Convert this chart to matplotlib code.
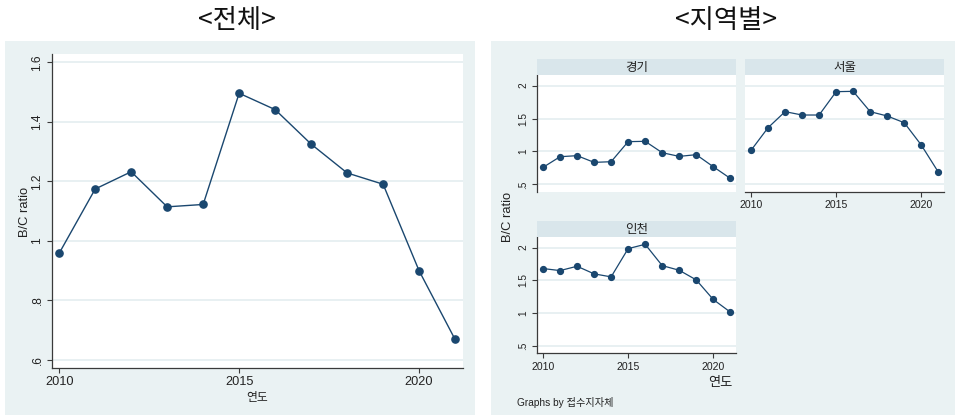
import matplotlib
matplotlib.use("Agg")
import matplotlib.pyplot as plt
from matplotlib.patches import Rectangle

# ---- data -------------------------------------------------------------
years = [2010, 2011, 2012, 2013, 2014, 2015, 2016, 2017, 2018, 2019, 2020, 2021]
total_bc = [0.958, 1.174, 1.232, 1.114, 1.122, 1.496, 1.441, 1.325, 1.228, 1.190, 0.899, 0.668]
gyeonggi_bc = [0.758, 0.920, 0.936, 0.834, 0.844, 1.149, 1.154, 0.981, 0.925, 0.951, 0.768, 0.591]
seoul_bc = [1.017, 1.361, 1.605, 1.554, 1.554, 1.909, 1.914, 1.605, 1.539, 1.437, 1.098, 0.687]
incheon_bc = [1.681, 1.650, 1.716, 1.600, 1.554, 1.985, 2.051, 1.726, 1.655, 1.508, 1.209, 1.017]
regions = ["경기", "서울", "인천"]

total_yticks = [0.6, 0.8, 1.0, 1.2, 1.4, 1.6]
total_yticklabels = [".6", ".8", "1", "1.2", "1.4", "1.6"]
region_yticks = [0.5, 1.0, 1.5, 2.0]
region_yticklabels = [".5", "1", "1.5", "2"]
xticks = [2010, 2015, 2020]

# ---- style ------------------------------------------------------------
plt.rcParams["font.family"] = ["Liberation Sans", "Noto Sans CJK KR", "DejaVu Sans"]
NAVY = "#1a476f"
BG = "#eaf2f3"
STRIP = "#d9e6eb"
AXIS = "#3a3a3a"
GRID = "#e6eff1"

W, H = 955, 415
fig = plt.figure(figsize=(W / 100, H / 100), dpi=100)
fig.patch.set_facecolor("white")


def fx(x):
    return x / W


def fy(y):
    return 1 - y / H


def add_px_axes(x0, y0, x1, y1, **kw):
    return fig.add_axes([fx(x0), fy(y1), (x1 - x0) / W, (y1 - y0) / H], **kw)


# panel backgrounds
fig.patches.append(Rectangle((fx(5), fy(415)), fx(475) - fx(5), fy(41) - fy(415),
                             transform=fig.transFigure, facecolor=BG, edgecolor="none", zorder=-5))
fig.patches.append(Rectangle((fx(491), fy(415)), fx(955) - fx(491), fy(41) - fy(415),
                             transform=fig.transFigure, facecolor=BG, edgecolor="none", zorder=-5))


def style_axes(ax, ylim, xlim, yticks, yticklabels, ysize, xsize, show_x=True, show_y=True):
    ax.set_facecolor("white")
    ax.set_xlim(*xlim)
    ax.set_ylim(*ylim)
    for s in ("top", "right"):
        ax.spines[s].set_visible(False)
    for s in ("left", "bottom"):
        ax.spines[s].set_color(AXIS)
        ax.spines[s].set_linewidth(0.9)
    ax.set_yticks(yticks)
    ax.set_xticks(xticks)
    for yv in yticks:
        ax.axhline(yv, color=GRID, lw=1.3, zorder=0.5)
    ax.tick_params(axis="both", direction="out", length=3.6, width=0.8, color=AXIS)
    ax.tick_params(axis="y", labelsize=ysize, pad=2.5, labelrotation=90)
    ax.tick_params(axis="x", labelsize=xsize, pad=2.5)
    if show_y:
        ax.set_yticklabels(yticklabels)
        for t in ax.get_yticklabels():
            t.set_va("center")
            t.set_color("#222222")
    else:
        ax.spines["left"].set_visible(False)
        ax.tick_params(axis="y", left=False, labelleft=False)
    if show_x:
        ax.set_xticklabels([str(v) for v in xticks])
        for t in ax.get_xticklabels():
            t.set_color("#222222")
    else:
        ax.spines["bottom"].set_visible(False)
        ax.tick_params(axis="x", bottom=False, labelbottom=False)


def plot_series(ax, values, ms, lw):
    ax.plot(years, values, color=NAVY, lw=lw, marker="o", ms=ms,
            markerfacecolor=NAVY, markeredgecolor=NAVY, zorder=3, clip_on=False)


# ---- overall panel -------------------------------------------------------
ax_total = add_px_axes(52, 54, 463, 368)
style_axes(ax_total, (0.572, 1.628), (2009.80, 2021.22), total_yticks, total_yticklabels,
           ysize=8.6, xsize=9.2)
plot_series(ax_total, total_bc, ms=5.2, lw=1.0)
fig.text(fx(257), fy(398), "연도", ha="center", va="center", fontsize=8.5, color="#222222")
fig.text(fx(25), fy(212), "B/C ratio", ha="center", va="center", rotation=90,
         fontsize=9.3, color="#222222")

# ---- regional panels -----------------------------------------------------
region_data = {"경기": gyeonggi_bc, "서울": seoul_bc, "인천": incheon_bc}
region_boxes = {
    "경기": (537, 74.7, 736, 191.7),
    "서울": (745, 74.7, 944, 191.7),
    "인천": (537, 236.7, 736, 353.3),
}
region_axes_flags = {
    "경기": dict(show_x=False, show_y=True),
    "서울": dict(show_x=True, show_y=False),
    "인천": dict(show_x=True, show_y=True),
}
strip_h = 15.7

for name in regions:
    x0, y0, x1, y1 = region_boxes[name]
    ax = add_px_axes(x0, y0, x1, y1)
    style_axes(ax, (0.388, 2.167), (2009.646, 2021.336), region_yticks, region_yticklabels,
               ysize=7.2, xsize=7.6, **region_axes_flags[name])
    plot_series(ax, region_data[name], ms=4.2, lw=0.9)
    # facet header strip
    sax = add_px_axes(x0, y0 - strip_h, x1, y0)
    sax.set_facecolor(STRIP)
    sax.set_xticks([])
    sax.set_yticks([])
    for s in sax.spines.values():
        s.set_visible(False)
    sax.text(0.5, 0.45, name, transform=sax.transAxes, ha="center", va="center",
             fontsize=9, color="#222222")

fig.text(fx(720), fy(383), "연도", ha="center", va="center", fontsize=9.5, color="#222222")
fig.text(fx(508), fy(217), "B/C ratio", ha="center", va="center", rotation=90,
         fontsize=9.3, color="#222222")
fig.text(fx(517), fy(402), "Graphs by 접수지자체", ha="left", va="center",
         fontsize=7.3, color="#222222")

# ---- headings --------------------------------------------------------
fig.text(fx(237), fy(21), "<전체>", ha="center", va="center", fontsize=19,
         family=["Noto Sans CJK KR"], fontweight="light", color="#111111")
fig.text(fx(726), fy(21), "<지역별>", ha="center", va="center", fontsize=19,
         family=["Noto Sans CJK KR"], fontweight="light", color="#111111")

fig.savefig("out.png", dpi=100, facecolor="white")
